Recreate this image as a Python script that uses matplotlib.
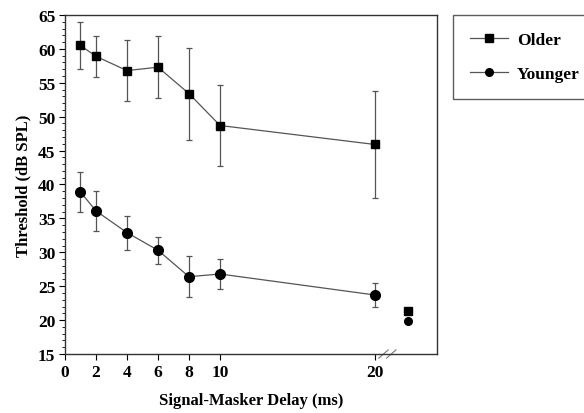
import matplotlib
matplotlib.use("Agg")
import matplotlib.pyplot as plt
from matplotlib.ticker import MultipleLocator
from matplotlib.lines import Line2D

plt.rcParams['font.family'] = ['Liberation Serif', 'DejaVu Serif']
plt.rcParams['font.weight'] = 'bold'

delays = [1, 2, 4, 6, 8, 10, 20]
older = [60.5, 58.9, 56.8, 57.3, 53.4, 48.7, 45.9]
older_err = [3.4, 3.0, 4.5, 4.6, 6.8, 6.0, 7.9]
younger = [38.9, 36.1, 32.9, 30.3, 26.4, 26.8, 23.7]
younger_err = [3.0, 2.9, 2.5, 2.0, 3.0, 2.2, 1.8]
quiet_x = 22.1
older_quiet = 21.3
younger_quiet = 19.8
xticks = [0, 2, 4, 6, 8, 10, 20]
yticks = [15, 20, 25, 30, 35, 40, 45, 50, 55, 60, 65]
break_x = 20.8

fig = plt.figure(figsize=(5.84, 4.14), dpi=100)
ax = fig.add_axes([0.1113, 0.1425, 0.637, 0.8189])

line_kw = dict(color='#555555', lw=0.9, ecolor='#555555', elinewidth=0.9, capsize=2.0, capthick=0.9)
ax.errorbar(delays, older, yerr=older_err, marker='s', ms=6.3, mfc='black', mec='black', **line_kw)
ax.errorbar(delays, younger, yerr=younger_err, marker='o', ms=7, mfc='black', mec='black', **line_kw)
ax.plot([quiet_x], [older_quiet], 's', ms=5.5, color='black')
ax.plot([quiet_x], [younger_quiet], 'o', ms=5.5, color='black')

ax.set_xlim(0, 24)
ax.set_ylim(15, 65)
ax.set_xticks(xticks)
ax.set_yticks(yticks)
ax.yaxis.set_minor_locator(MultipleLocator(1))
ax.tick_params(axis='both', which='major', direction='out', length=4, width=0.8, labelsize=12.5, pad=3)
ax.tick_params(axis='both', which='minor', direction='out', length=2, width=0.6)
ax.tick_params(top=False, right=False, which='both')
for lab in ax.get_xticklabels() + ax.get_yticklabels():
    lab.set_fontweight('bold')
for s in ax.spines.values():
    s.set_linewidth(1.0)
    s.set_color('#333333')

# axis break marks
tr = ax.get_xaxis_transform()
for dx in (-0.25, 0.25):
    ax.plot([break_x + dx - 0.3, break_x + dx + 0.3], [-0.012, 0.012], transform=tr,
            color='#777777', lw=0.8, clip_on=False)

ax.set_xlabel('Signal-Masker Delay (ms)', fontsize=12, fontweight='bold', labelpad=9)
ax.set_ylabel('Threshold (dB SPL)', fontsize=12, fontweight='bold', labelpad=5)

handles = [Line2D([], [], color='#555555', lw=0.9, marker='s', ms=5.5, mfc='black', mec='black'),
           Line2D([], [], color='#555555', lw=0.9, marker='o', ms=5.5, mfc='black', mec='black')]
leg = fig.legend(handles, ['Older', 'Younger'], loc='upper left', bbox_to_anchor=(0.775, 0.962),
                 frameon=True, fancybox=False, edgecolor='#333333', fontsize=12.5,
                 handlelength=2.2, borderpad=1.0, labelspacing=1.0, handletextpad=0.5,
                 borderaxespad=0)
leg.get_frame().set_linewidth(1.0)
for t in leg.get_texts():
    t.set_fontweight('bold')

fig.savefig('out.png', dpi=100)
